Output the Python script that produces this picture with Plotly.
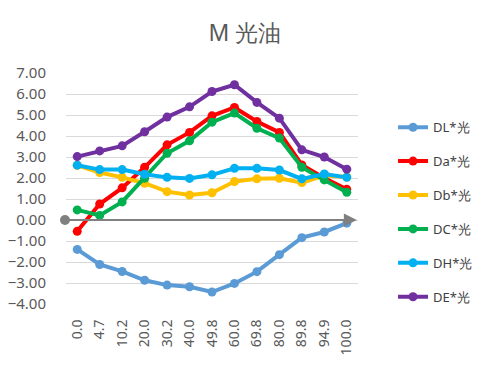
import plotly.graph_objects as go

categories = ["0.0", "4.7", "10.2", "20.0", "30.2", "40.0", "49.8", "60.0", "69.8", "80.0", "89.8", "94.9", "100.0"]

DL = [-1.40, -2.12, -2.45, -2.87, -3.10, -3.18, -3.43, -3.02, -2.46, -1.65, -0.84, -0.57, -0.15]
Da = [-0.54, 0.76, 1.53, 2.51, 3.58, 4.17, 4.96, 5.36, 4.69, 4.17, 2.62, 2.00, 1.46]
Db = [2.60, 2.26, 2.03, 1.75, 1.35, 1.19, 1.30, 1.83, 1.96, 1.99, 1.78, 2.12, 2.05]
DC = [0.48, 0.22, 0.86, 1.99, 3.18, 3.77, 4.66, 5.09, 4.37, 3.90, 2.51, 1.91, 1.32]
DH = [2.61, 2.40, 2.40, 2.18, 2.03, 1.98, 2.15, 2.46, 2.46, 2.38, 1.96, 2.19, 2.03]
DE = [3.02, 3.29, 3.53, 4.20, 4.90, 5.39, 6.12, 6.44, 5.60, 4.85, 3.34, 3.00, 2.42]

series = [
    ("DL*光", DL, "#5B9BD5"),
    ("Da*光", Da, "#FF0000"),
    ("Db*光", Db, "#FFC000"),
    ("DC*光", DC, "#00B050"),
    ("DH*光", DH, "#00B0F0"),
    ("DE*光", DE, "#7030A0"),
]

fig = go.Figure()
for i, (name, vals, color) in enumerate(series):
    fig.add_trace(go.Scatter(
        x=categories, y=vals, name=name, mode="lines+markers",
        line=dict(color=color, width=4),
        marker=dict(color=color, size=9),
        legendgroup=f"g{i}",
    ))

font_family = "Noto Sans, Open Sans, sans-serif"
fig.update_layout(
    width=500, height=374,
    margin=dict(l=58, r=150, t=65, b=78),
    paper_bgcolor="white", plot_bgcolor="white",
    title=dict(text="M 光油", x=0.474, xanchor="center", y=0.933, yanchor="middle",
               font=dict(family=font_family, size=23, color="#595959")),
    font=dict(family=font_family, color="#595959"),
    showlegend=True,
    legend=dict(x=1.12, xanchor="left", y=0.83, yanchor="top",
                font=dict(size=13, color="#404040"), traceorder="grouped",
                tracegroupgap=14, bgcolor="rgba(0,0,0,0)"),
    xaxis=dict(type="category", range=[-0.5, 12.5], showgrid=False, zeroline=False,
               showline=False, ticks="outside", ticklen=9, tickcolor="rgba(0,0,0,0)",
               tickangle=-90, automargin=False,
               tickfont=dict(size=14, color="#595959")),
    yaxis=dict(range=[-4, 7], dtick=1, tickformat=".2f", showgrid=True,
               gridcolor="#D9D9D9", gridwidth=1, zeroline=False, showline=False,
               ticks="outside", ticklen=16, tickcolor="rgba(0,0,0,0)",
               automargin=False,
               tickfont=dict(size=15, color="#595959")),
)

# zero axis line with arrow
fig.add_annotation(x=12.45, y=0, ax=-0.45, ay=0, xref="x", yref="y", axref="x", ayref="y",
                   showarrow=True, arrowhead=2, arrowsize=1.3, arrowwidth=2,
                   arrowcolor="#808080", text="")
fig.add_shape(type="circle", xref="paper", yref="paper",
              x0=-0.0205, x1=0.0137, y0=0.3636 - 0.0216, y1=0.3636 + 0.0216,
              fillcolor="#808080", line=dict(width=0), layer="above")

fig.write_html("out.html")
